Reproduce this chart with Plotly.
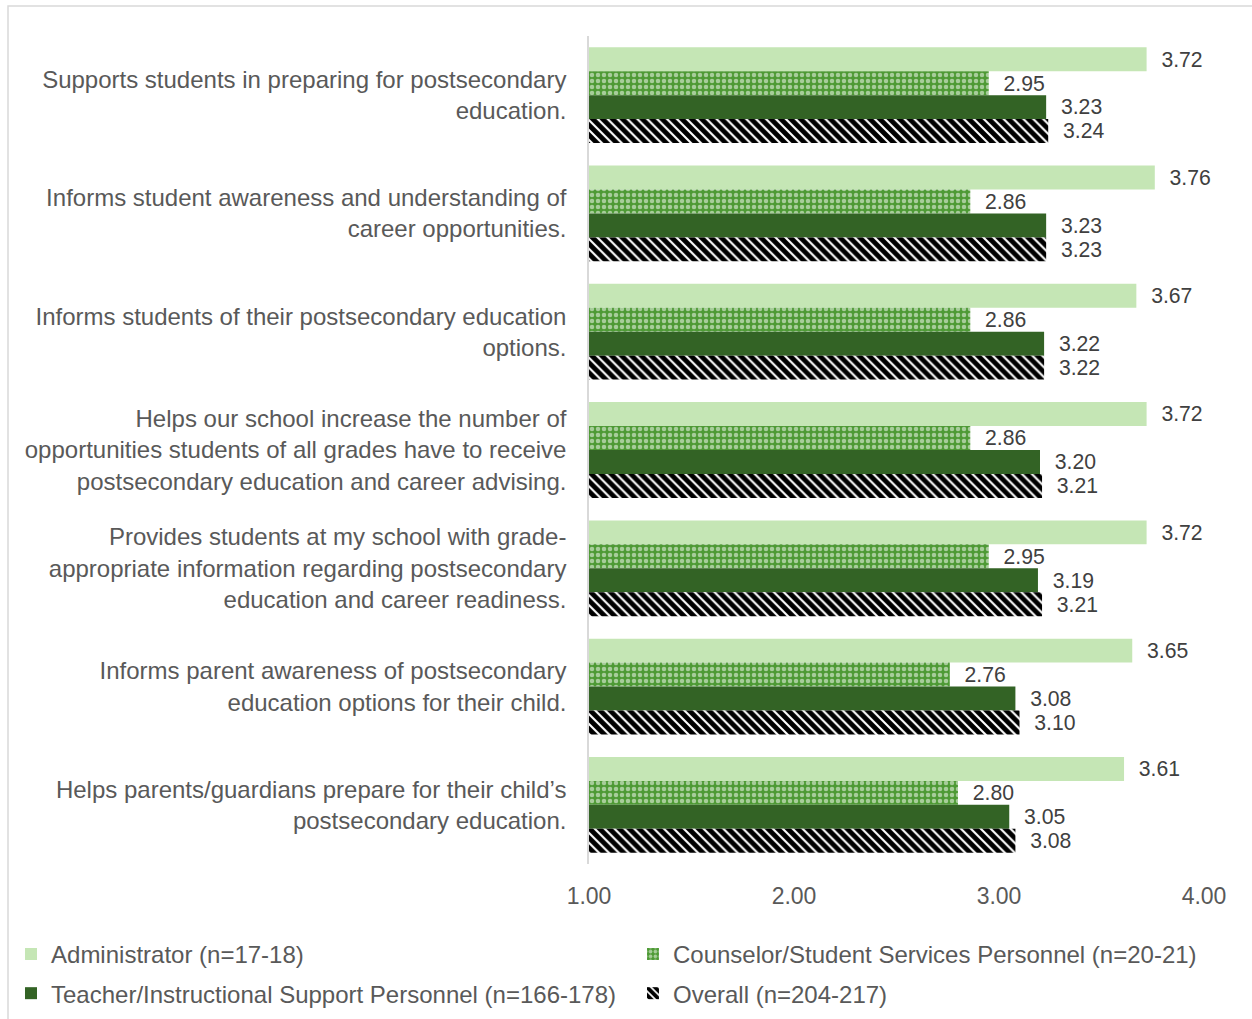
import plotly.graph_objects as go

categories = [
    "Supports students in preparing for postsecondary<br>education.",
    "Informs student awareness and understanding of<br>career opportunities.",
    "Informs students of their postsecondary education<br>options.",
    "Helps our school increase the number of<br>opportunities students of all grades have to receive<br>postsecondary education and career advising.",
    "Provides students at my school with grade-<br>appropriate information regarding postsecondary<br>education and career readiness.",
    "Informs parent awareness of postsecondary<br>education options for their child.",
    "Helps parents/guardians prepare for their child\u2019s<br>postsecondary education.",
]
administrator = [3.72, 3.76, 3.67, 3.72, 3.72, 3.65, 3.61]
counselor = [2.95, 2.86, 2.86, 2.86, 2.95, 2.76, 2.80]
teacher = [3.23, 3.23, 3.22, 3.20, 3.19, 3.08, 3.05]
overall = [3.24, 3.23, 3.22, 3.21, 3.21, 3.10, 3.08]

names = ["Administrator (n=17-18)",
         "Counselor/Student Services Personnel (n=20-21)",
         "Teacher/Instructional Support Personnel (n=166-178)",
         "Overall (n=204-217)"]

font = "Liberation Sans, Arial, sans-serif"
label_color = "#404040"

def bar(vals, name, color, legend, pattern=None):
    return go.Bar(
        y=categories, x=vals, name=name, orientation="h",
        marker=dict(color=color, line=dict(width=0), pattern=pattern),
        text=vals, texttemplate="\u00a0\u00a0%{x:.2f}", textposition="outside",
        textfont=dict(size=23, color=label_color, family=font),
        cliponaxis=False, legend=legend, legendgroup=name,
    )

fig = go.Figure()
fig.add_trace(bar(administrator, names[0], "#C5E6B5", "legend"))
fig.add_trace(bar(counselor, names[1], "#4E9A35", "legend2",
                  dict(shape=".", fgcolor="white", bgcolor="#4E9A35", size=6, solidity=0.45)))
fig.add_trace(bar(teacher, names[2], "#336325", "legend"))
fig.add_trace(bar(overall, names[3], "#FFFFFF", "legend2",
                  dict(shape="\\", fgcolor="#000000", fgopacity=1, bgcolor="white",
                       size=7, solidity=0.7)))

# light gray frame around the chart
fig.add_shape(type="rect", xref="paper", yref="paper",
              x0=-0.9447, x1=1.1, y0=-0.25, y1=1.0362,
              line=dict(color="#D9D9D9", width=1.5), layer="below")

legend_style = dict(orientation="v", xref="paper", yref="container",
                    y=0.0855, xanchor="left", yanchor="top",
                    traceorder="grouped", tracegroupgap=5, itemwidth=30,
                    font=dict(size=24, color="#595959"), bgcolor="rgba(0,0,0,0)")

fig.update_layout(
    width=1252, height=1019,
    margin=dict(l=589, r=48, t=36, b=155, autoexpand=False),
    barmode="group", bargap=0.19, bargroupgap=0,
    plot_bgcolor="white", paper_bgcolor="white",
    font=dict(family=font, size=23, color="#595959"),
    xaxis=dict(range=[1, 4], tickvals=[1, 2, 3, 4], tickformat=".2f",
               showgrid=False, zeroline=False, showline=False,
               ticklabelstandoff=16, tickfont=dict(size=23, color="#595959")),
    yaxis=dict(autorange="reversed", showgrid=False, showline=True,
               linecolor="#D9D9D9", linewidth=1.5, ticklabelstandoff=16,
               tickfont=dict(size=24, color="#595959")),
    legend=dict(x=-0.9398, **legend_style),
    legend2=dict(x=0.0715, **legend_style),
    showlegend=True,
)

fig.write_html("out.html", config={"displayModeBar": False},
               post_script="document.body.style.margin='0';")
